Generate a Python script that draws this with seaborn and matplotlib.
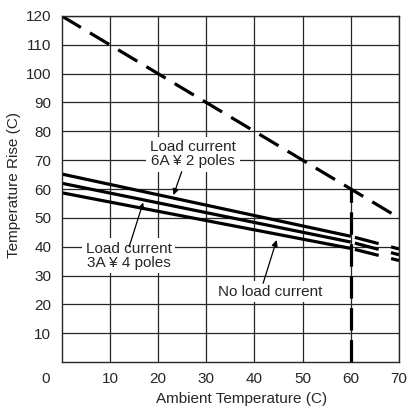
import seaborn as sns
import matplotlib.pyplot as plt

# DATA
# rated range 0..60 C (solid), extension 60..70 C (dashed)
x_rated = [0, 60]
x_ext = [60, 70]
no_load = [58.7, 39.4]
no_load_ext = [39.4, 35.2]
load_3a = [62.0, 41.6]
load_3a_ext = [41.6, 37.2]
load_6a = [65.2, 43.6]
load_6a_ext = [43.6, 39.2]

# upper limit line and the 60 C limit
x_limit = [0, 70]
y_limit = [120, 50]
x_vert = [60, 60]
y_vert = [0, 60]

x_ticks = [10, 20, 30, 40, 50, 60, 70]
y_ticks = [10, 20, 30, 40, 50, 60, 70, 80, 90, 100, 110, 120]

sns.set_style("white")
plt.rcParams['font.family'] = ['Liberation Sans', 'DejaVu Sans']

fig = plt.figure(figsize=(4.1, 4.08), dpi=100)
ax = fig.add_axes([0.1505, 0.1127, 0.8227, 0.8481])

lw = 2.3
fs = 11

# solid lines
for y in [no_load, load_3a, load_6a]:
    sns.lineplot(x=x_rated, y=y, ax=ax, color='black', lw=lw, estimator=None,
                 solid_capstyle='butt')
# dashed extensions
for y in [no_load_ext, load_3a_ext, load_6a_ext]:
    sns.lineplot(x=x_ext, y=y, ax=ax, color='black', lw=lw, estimator=None,
                 linestyle=(10.4, (7.7, 4)), dash_capstyle='butt')

sns.lineplot(x=x_limit, y=y_limit, ax=ax, color='black', lw=lw, estimator=None,
             linestyle=(0, (7, 3.3)), dash_capstyle='butt')
sns.lineplot(x=x_vert, y=y_vert, ax=ax, color='black', lw=lw, estimator=None,
             linestyle=(0, (7, 3)), dash_capstyle='butt', sort=False)

ax.set_xlim(0, 70)
ax.set_ylim(0, 120)
ax.set_xticks(x_ticks)
ax.set_yticks(y_ticks)
ax.grid(True, color='0.15', lw=0.9)
ax.set_axisbelow(True)
ax.tick_params(length=0, labelsize=fs, pad=7.5)
for s in ax.spines.values():
    s.set_color('0.15')
    s.set_linewidth(1.0)

# origin label sits left of the axis
ax.annotate('0', xy=(0, 0), xycoords='data', xytext=(-11.3, -7.5),
            textcoords='offset points', ha='center', va='top', fontsize=fs,
            annotation_clip=False)

ax.set_xlabel('Ambient Temperature (C)', fontsize=fs)
ax.set_ylabel('Temperature Rise (C)', fontsize=fs)
ax.xaxis.set_label_coords(0.5346, -0.088)
ax.yaxis.set_label_coords(-0.12, 0.512)

box = dict(boxstyle='square,pad=0.25', fc='white', ec='none')
arrow = dict(arrowstyle='-|>', color='black', lw=0.9, mutation_scale=9,
             shrinkA=0, shrinkB=0)

ax.text(27.2, 72, 'Load current\n6A ¥ 2 poles', ha='center', va='center',
        fontsize=fs, linespacing=1.0, bbox=box)
ax.annotate('', xy=(23.2, 57.9), xytext=(24.9, 66.0), arrowprops=arrow)

ax.text(13.9, 36.9, 'Load current\n3A ¥ 4 poles', ha='center', va='center',
        fontsize=fs, linespacing=1.0, bbox=box)
ax.annotate('', xy=(16.9, 55.3), xytext=(14.0, 40.0), arrowprops=arrow)

ax.text(43.2, 24.4, 'No load current', ha='center', va='center',
        fontsize=fs, bbox=box)
ax.annotate('', xy=(44.6, 42.3), xytext=(41.8, 27.3), arrowprops=arrow)

plt.savefig('out.png', dpi=100)
